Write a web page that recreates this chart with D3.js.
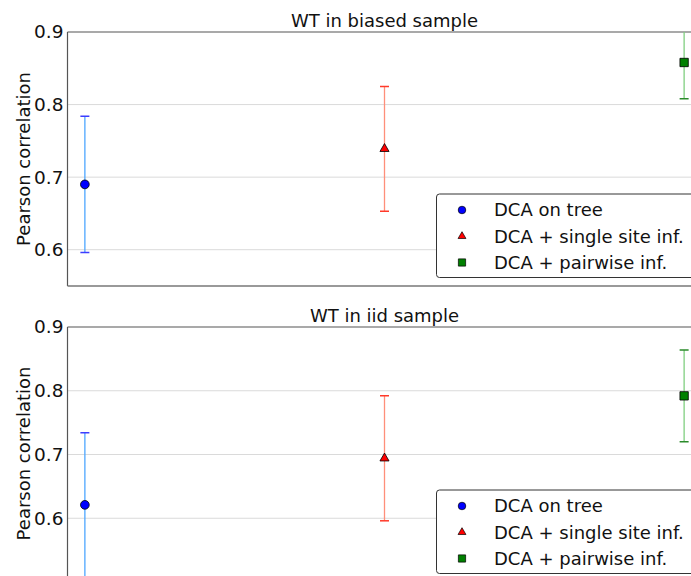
<!DOCTYPE html>
<html><head><meta charset="utf-8">
<script src="https://cdn.jsdelivr.net/npm/d3@7"></script>
<style>body{margin:0;background:#fff;} svg{display:block;font-family:"DejaVu Sans",sans-serif;}</style>
</head><body>
<svg id="c" width="691" height="576"></svg>
<script>
const methods = ["DCA on tree", "DCA + single site inf.", "DCA + pairwise inf."];
const panelTitles = ["WT in biased sample", "WT in iid sample"];
const biasedMean = [0.690, 0.739, 0.858];
const biasedErr  = [0.094, 0.086, 0.050];
const iidMean    = [0.621, 0.694, 0.792];
const iidErr     = [0.113, 0.098, 0.072];
const yTicks = [0.6, 0.7, 0.8, 0.9];
const yDomains = [[0.55, 0.9], [0.5, 0.9]];

const markerFill = ["#0000ff", "#ff0000", "#008000"];
const lineCol = ["#4da6ff", "#ff8f7a", "#80cf80"];
const capCol = ["#3d3dff", "#ff3a2a", "#2a8a2a"];
const shapes = [d3.symbolCircle, d3.symbolTriangle, d3.symbolSquare];
const shapeSize = [60, 36, 70];

const svg = d3.select("#c");
const panels = [
  {top: 32, bottom: 286, mean: biasedMean, err: biasedErr, legTop: 194, legBot: 277.5},
  {top: 327, bottom: 582, mean: iidMean, err: iidErr, legTop: 490, legBot: 573.5}
];
const left = 67.5, right = 701.5;
const x = d3.scaleLinear().domain([-0.058, 2.058]).range([left, right]);

panels.forEach((p, pi) => {
  const y = d3.scaleLinear().domain(yDomains[pi]).range([p.bottom, p.top]);
  const g = svg.append("g");
  const clipId = "clip" + pi;
  svg.append("clipPath").attr("id", clipId).append("rect")
    .attr("x", left).attr("y", p.top).attr("width", right - left).attr("height", p.bottom - p.top);
  // grid
  g.selectAll(".grid").data(yTicks.filter(t => t < 0.9)).enter().append("line")
    .attr("x1", left).attr("x2", right).attr("y1", d => y(d)).attr("y2", d => y(d))
    .attr("stroke", "#dadada").attr("stroke-width", 1);
  // y axis labels
  const ax = d3.axisLeft(y).tickValues(yTicks).tickFormat(d3.format(".1f")).tickSize(0).tickPadding(4);
  const axg = g.append("g").attr("transform", `translate(${left},0)`).call(ax);
  axg.select(".domain").remove();
  axg.selectAll("text").attr("font-size", 18.5).attr("fill", "#111").attr("font-family", "DejaVu Sans");
  // spines
  g.append("line").attr("x1", left).attr("x2", left).attr("y1", p.top).attr("y2", p.bottom).attr("stroke", "#555").attr("stroke-width", 1.2);
  g.append("line").attr("x1", left).attr("x2", right).attr("y1", p.top).attr("y2", p.top).attr("stroke", "#555").attr("stroke-width", 1.2);
  g.append("line").attr("x1", left).attr("x2", right).attr("y1", p.bottom).attr("y2", p.bottom).attr("stroke", "#777").attr("stroke-width", 1.5);
  // title
  g.append("text").attr("x", (left + right) / 2).attr("y", p.top - 5).attr("text-anchor", "middle")
    .attr("font-size", 18).attr("fill", "#111").text(panelTitles[pi]);
  // y label
  g.append("text").attr("transform", `translate(30,${(p.top + p.bottom) / 2 + (pi === 1 ? -1 : 0)}) rotate(-90)`)
    .attr("text-anchor", "middle").attr("font-size", 18).attr("fill", "#111").text("Pearson correlation");
  // error bars
  const eg = g.append("g").attr("clip-path", `url(#${clipId})`);
  methods.forEach((m, i) => {
    const cx = x(i), lo = p.mean[i] - p.err[i], hi = p.mean[i] + p.err[i];
    eg.append("line").attr("x1", cx).attr("x2", cx).attr("y1", y(lo)).attr("y2", y(hi))
      .attr("stroke", lineCol[i]).attr("stroke-width", 1.3);
    [lo, hi].forEach(v => eg.append("line").attr("x1", cx - 4.5).attr("x2", cx + 4.5)
      .attr("y1", y(v)).attr("y2", y(v)).attr("stroke", capCol[i]).attr("stroke-width", 1.5));
    eg.append("path").attr("d", d3.symbol().type(shapes[i]).size(shapeSize[i])())
      .attr("transform", `translate(${cx},${y(p.mean[i])})`)
      .attr("fill", markerFill[i]).attr("stroke", "#000").attr("stroke-width", 0.8);
  });
  // legend
  const lg = g.append("g");
  lg.append("rect").attr("x", 436.5).attr("y", p.legTop).attr("width", 280).attr("height", p.legBot - p.legTop)
    .attr("rx", 3).attr("fill", "#fff").attr("stroke", "#333").attr("stroke-width", 1);
  const step = (p.legBot - p.legTop - 31) / 2;
  methods.forEach((m, i) => {
    const cy = p.legTop + 15 + i * step + 1;
    lg.append("path").attr("d", d3.symbol().type(shapes[i]).size(shapeSize[i] * 0.75)())
      .attr("transform", `translate(462,${cy})`).attr("fill", markerFill[i]).attr("stroke", "#000").attr("stroke-width", 0.7);
    lg.append("text").attr("x", 494).attr("y", cy).attr("dy", "0.35em").attr("font-size", 18).attr("fill", "#111").text(m);
  });
});
</script>
</body></html>
